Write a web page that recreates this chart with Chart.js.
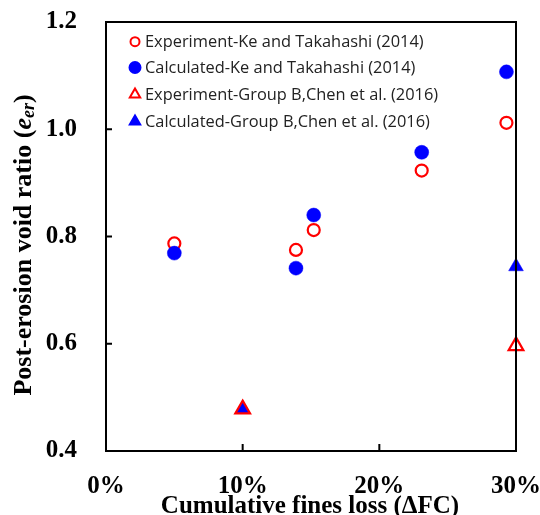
<!DOCTYPE html>
<html><head><meta charset="utf-8">
<script src="https://cdn.jsdelivr.net/npm/chart.js@4/dist/chart.umd.min.js"></script>
<style>html,body{margin:0;padding:0;background:#fff}#wrap{width:540px;height:515px;position:relative}</style>
</head><body><div id="wrap"><canvas id="c" width="540" height="515"></canvas></div>
<script>
// Data (x in % fines loss, y = post-erosion void ratio)
const expKeX = [5.0, 13.9, 15.2, 23.1, 29.3];
const expKeY = [0.787, 0.775, 0.812, 0.923, 1.012];
const calKeX = [5.0, 13.9, 15.2, 23.1, 29.3];
const calKeY = [0.769, 0.741, 0.840, 0.957, 1.107];
const expChenX = [10, 30];
const expChenY = [0.478, 0.596];
const calChenX = [10, 30];
const calChenY = [0.478, 0.744];
const seriesLabels = [
  'Experiment-Ke and Takahashi (2014)',
  'Calculated-Ke and Takahashi (2014)',
  'Experiment-Group B,Chen et al. (2016)',
  'Calculated-Group B,Chen et al. (2016)'
];
const xTickValues = [0, 10, 20, 30];
const yTickValues = [0.4, 0.6, 0.8, 1.0, 1.2];
const xTitle = 'Cumulative fines loss (\u0394FC)';
const yTitleMain = 'Post-erosion void ratio (';
const yTitleSym = 'e';
const yTitleSub = 'er';
const yTitleEnd = ')';

const pts = (xs, ys) => xs.map((x, i) => ({x: x, y: ys[i]}));
const SERIF = '"Liberation Serif","Times New Roman",serif';

const frame = {
  id: 'frame',
  afterDatasetsDraw(chart) {
    const ctx = chart.ctx, a = chart.chartArea;
    const xs = chart.scales.x, ys = chart.scales.y;
    ctx.save();
    ctx.strokeStyle = '#000';
    ctx.lineWidth = 2;
    ctx.strokeRect(a.left, a.top, a.right - a.left, a.bottom - a.top);
    ctx.beginPath();
    xs.ticks.forEach(t => {
      const px = xs.getPixelForValue(t.value);
      ctx.moveTo(px, a.bottom); ctx.lineTo(px, a.bottom - 7);
    });
    ys.ticks.forEach(t => {
      const py = ys.getPixelForValue(t.value);
      ctx.moveTo(a.left, py); ctx.lineTo(a.left + 6, py);
    });
    ctx.stroke();
    ctx.restore();
  },
  afterDraw(chart) {
    const ctx = chart.ctx;
    ctx.save();
    // x title
    ctx.fillStyle = '#000';
    ctx.font = 'bold 25px ' + SERIF;
    ctx.textAlign = 'center';
    ctx.textBaseline = 'alphabetic';
    ctx.fillText(xTitle, 310, 513);
    // y title (rotated, with subscript)
    ctx.translate(24, 245);
    ctx.rotate(-Math.PI / 2);
    const fMain = 'bold 26px ' + SERIF, fIt = 'italic bold 26px ' + SERIF, fSub = 'italic bold 18px ' + SERIF;
    ctx.font = fMain; const w1 = ctx.measureText(yTitleMain).width; const w4 = ctx.measureText(yTitleEnd).width;
    ctx.font = fIt; const w2 = ctx.measureText(yTitleSym).width;
    ctx.font = fSub; const w3 = ctx.measureText(yTitleSub).width;
    let x0 = -(w1 + w2 + w3 + w4) / 2;
    ctx.textAlign = 'left'; ctx.textBaseline = 'middle';
    ctx.font = fMain; ctx.fillText(yTitleMain, x0, 0); x0 += w1;
    ctx.font = fIt; ctx.fillText(yTitleSym, x0, 0); x0 += w2;
    ctx.font = fSub; ctx.fillText(yTitleSub, x0, 5); x0 += w3;
    ctx.font = fMain; ctx.fillText(yTitleEnd, x0, 0);
    ctx.restore();
    // legend
    ctx.save();
    ctx.font = '16.4px "Open Sans", sans-serif';
    ctx.textBaseline = 'middle';
    ctx.textAlign = 'left';
    const rows = [41.7, 67.5, 94.4, 121.6];
    chart.data.datasets.forEach((ds, i) => {
      const y = rows[i], mx = 135;
      ctx.lineWidth = 2;
      ctx.strokeStyle = ds.borderColor; ctx.fillStyle = ds.backgroundColor;
      if (ds.pointStyle === 'circle') {
        ctx.beginPath(); ctx.arc(mx, y, ds.legendR, 0, Math.PI * 2);
        if (ds.backgroundColor !== 'rgba(0,0,0,0)') ctx.fill();
        ctx.stroke();
      } else {
        const r = ds.legendR;
        ctx.beginPath();
        ctx.moveTo(mx, y - r);
        ctx.lineTo(mx + r * 0.866, y + r * 0.5);
        ctx.lineTo(mx - r * 0.866, y + r * 0.5);
        ctx.closePath();
        if (ds.backgroundColor !== 'rgba(0,0,0,0)') ctx.fill();
        ctx.stroke();
      }
      ctx.fillStyle = '#222';
      ctx.fillText(ds.label, 145, y + 1);
    });
    ctx.restore();
  }
};

new Chart(document.getElementById('c'), {
  type: 'scatter',
  data: {
    datasets: [
      {label: seriesLabels[0], data: pts(expKeX, expKeY), pointStyle: 'circle', pointRadius: 6, borderWidth: 2.2,
       borderColor: '#ff0000', backgroundColor: 'rgba(0,0,0,0)', order: 3, legendR: 4.5, clip: false},
      {label: seriesLabels[1], data: pts(calKeX, calKeY), pointStyle: 'circle', pointRadius: 7, borderWidth: 0.5,
       borderColor: '#0000ff', backgroundColor: '#0000ff', order: 2, legendR: 5.5, clip: false},
      {label: seriesLabels[2], data: pts(expChenX, expChenY), pointStyle: 'triangle', pointRadius: 8.5, borderWidth: 2.2,
       borderColor: '#ff0000', backgroundColor: 'rgba(0,0,0,0)', order: 0, legendR: 6, clip: false},
      {label: seriesLabels[3], data: pts(calChenX, calChenY), pointStyle: 'triangle', pointRadius: 8.5, borderWidth: 0.5,
       borderColor: '#0000ff', backgroundColor: '#0000ff', order: 1, legendR: 6, clip: false}
    ]
  },
  options: {
    responsive: false,
    animation: false,
    layout: {padding: {top: 22, left: 0, right: 24, bottom: 0}},
    plugins: {legend: {display: false}, tooltip: {enabled: false}},
    scales: {
      x: {
        type: 'linear', min: 0, max: 30,
        afterBuildTicks: s => { s.ticks = xTickValues.map(v => ({value: v})); },
        afterFit: s => { s.height = 64; s.paddingLeft = 0; s.paddingRight = 0; },
        grid: {display: false, drawTicks: false},
        border: {display: false},
        ticks: {color: '#000', padding: 21, font: {family: SERIF, size: 25, weight: 'bold'},
                callback: v => v + '%', maxRotation: 0},
      },
      y: {
        type: 'linear', min: 0.4, max: 1.2,
        afterBuildTicks: s => { s.ticks = yTickValues.map(v => ({value: v})); },
        afterFit: s => { s.width = 106; s.paddingTop = 0; s.paddingBottom = 0; },
        grid: {display: false, drawTicks: false},
        border: {display: false},
        ticks: {color: '#000', padding: 29, font: {family: SERIF, size: 25, weight: 'bold'},
                callback: v => Number(v).toFixed(1)},
      }
    }
  },
  plugins: [frame]
});
</script></body></html>
